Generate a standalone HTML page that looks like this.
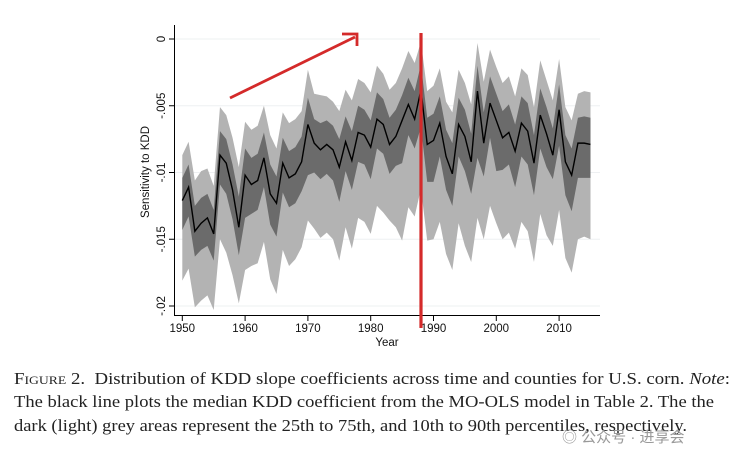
<!DOCTYPE html>
<html><head><meta charset="utf-8"><style>
html,body{margin:0;padding:0;background:#fff;width:746px;height:467px;overflow:hidden}
.cap{position:absolute;left:14px;font-family:"Liberation Serif",serif;font-size:16.5px;color:#222;white-space:nowrap;transform-origin:0 0}
</style></head><body>
<svg id="chart" width="746" height="467" style="position:absolute;left:0;top:0" font-family="Liberation Sans, sans-serif"></svg>
<div class="cap" id="c1" data-tw="716" style="top:369px"><span style="font-variant:small-caps">Figure</span> 2.&nbsp; Distribution of KDD slope coefficients across time and counties for U.S. corn. <i>Note</i>:</div>
<div class="cap" id="c2" data-tw="700" style="top:392px">The black line plots the median KDD coefficient from the MO-OLS model in Table 2. The the</div>
<div class="cap" id="c3" data-tw="673" style="top:416px">dark (light) grey areas represent the 25th to 75th, and 10th to 90th percentiles, respectively.</div>
<div style="position:absolute;left:562px;top:426px;font-family:'Liberation Sans','Noto Sans CJK SC',sans-serif;font-size:15px;color:#999">◎ 公众号 · 进享会</div>
<script>
const years=[];for(let y=1950;y<=2015;y++)years.push(y);
const median=[-0.0121,-0.0111,-0.0144,-0.0138,-0.0134,-0.0146,-0.0087,-0.0093,-0.0113,-0.0141,-0.0102,-0.0109,-0.0106,-0.0089,-0.0116,-0.0123,-0.0093,-0.0104,-0.0101,-0.0092,-0.0064,-0.0078,-0.0083,-0.0079,-0.0083,-0.0096,-0.0077,-0.0091,-0.0070,-0.0072,-0.0081,-0.0060,-0.0064,-0.0079,-0.0073,-0.0061,-0.0049,-0.0060,-0.0038,-0.0079,-0.0076,-0.0063,-0.0088,-0.0101,-0.0064,-0.0073,-0.0092,-0.0039,-0.0078,-0.0048,-0.0061,-0.0074,-0.0070,-0.0084,-0.0063,-0.0069,-0.0093,-0.0057,-0.0071,-0.0087,-0.0053,-0.0092,-0.0102,-0.0078,-0.0078,-0.0079];
const p90=[-0.0087,-0.0077,-0.0106,-0.0099,-0.0097,-0.0110,-0.0051,-0.0057,-0.0074,-0.0096,-0.0062,-0.0068,-0.0065,-0.0050,-0.0072,-0.0082,-0.0055,-0.0063,-0.0060,-0.0054,-0.0023,-0.0041,-0.0042,-0.0043,-0.0047,-0.0054,-0.0038,-0.0046,-0.0030,-0.0033,-0.0040,-0.0020,-0.0026,-0.0038,-0.0033,-0.0022,-0.0009,-0.0018,-0.0002,-0.0039,-0.0035,-0.0022,-0.0047,-0.0055,-0.0023,-0.0033,-0.0049,-0.0003,-0.0032,-0.0008,-0.0021,-0.0033,-0.0028,-0.0043,-0.0022,-0.0027,-0.0051,-0.0016,-0.0031,-0.0046,-0.0015,-0.0051,-0.0061,-0.0041,-0.0039,-0.0040];
const p75=[-0.0104,-0.0094,-0.0125,-0.0119,-0.0116,-0.0128,-0.0069,-0.0075,-0.0094,-0.0118,-0.0082,-0.0089,-0.0086,-0.0070,-0.0094,-0.0103,-0.0074,-0.0084,-0.0081,-0.0073,-0.0044,-0.0060,-0.0063,-0.0061,-0.0065,-0.0075,-0.0058,-0.0069,-0.0050,-0.0053,-0.0061,-0.0040,-0.0045,-0.0059,-0.0053,-0.0042,-0.0029,-0.0039,-0.0019,-0.0059,-0.0056,-0.0043,-0.0068,-0.0078,-0.0044,-0.0053,-0.0071,-0.0020,-0.0055,-0.0028,-0.0041,-0.0054,-0.0049,-0.0064,-0.0043,-0.0048,-0.0072,-0.0037,-0.0051,-0.0067,-0.0034,-0.0072,-0.0082,-0.0059,-0.0058,-0.0059];
const p25=[-0.0143,-0.0133,-0.0163,-0.0158,-0.0155,-0.0166,-0.0109,-0.0116,-0.0135,-0.0162,-0.0134,-0.0131,-0.0128,-0.0111,-0.0139,-0.0148,-0.0115,-0.0126,-0.0123,-0.0114,-0.0102,-0.0100,-0.0105,-0.0101,-0.0106,-0.0122,-0.0099,-0.0113,-0.0092,-0.0094,-0.0105,-0.0082,-0.0086,-0.0101,-0.0095,-0.0093,-0.0072,-0.0082,-0.0066,-0.0107,-0.0107,-0.0088,-0.0113,-0.0125,-0.0088,-0.0099,-0.0116,-0.0089,-0.0103,-0.0074,-0.0099,-0.0098,-0.0094,-0.0111,-0.0088,-0.0094,-0.0117,-0.0082,-0.0096,-0.0105,-0.0080,-0.0117,-0.0129,-0.0104,-0.0104,-0.0104];
const p10=[-0.0181,-0.0172,-0.0201,-0.0196,-0.0192,-0.0203,-0.0150,-0.0160,-0.0177,-0.0198,-0.0173,-0.0170,-0.0168,-0.0152,-0.0180,-0.0191,-0.0158,-0.0170,-0.0165,-0.0156,-0.0136,-0.0142,-0.0149,-0.0145,-0.0150,-0.0166,-0.0141,-0.0157,-0.0134,-0.0137,-0.0146,-0.0125,-0.0130,-0.0136,-0.0141,-0.0151,-0.0126,-0.0133,-0.0112,-0.0151,-0.0150,-0.0137,-0.0161,-0.0173,-0.0138,-0.0155,-0.0167,-0.0134,-0.0150,-0.0125,-0.0138,-0.0150,-0.0145,-0.0157,-0.0137,-0.0144,-0.0167,-0.0131,-0.0147,-0.0155,-0.0128,-0.0164,-0.0175,-0.0150,-0.0148,-0.0150];
const yTicks=[0,-0.005,-0.01,-0.015,-0.02];
const yTickLabels=["0","-.005","-.01","-.015","-.02"];
const xTicks=[1950,1960,1970,1980,1990,2000,2010];

const NS="http://www.w3.org/2000/svg";
const svg=document.getElementById('chart');
const X=yr=>182.3+(yr-1950)*6.28;
const Y=v=>39-v*13350;
function mk(tag,attrs,parent){const e=document.createElementNS(NS,tag);for(const k in attrs)e.setAttribute(k,attrs[k]);(parent||svg).appendChild(e);return e;}
yTicks.forEach((t,i)=>{
  const g=mk('line',{x1:175,x2:600,y1:Y(t),y2:Y(t),stroke:'#eef0f2','stroke-width':1});
  
  
});
function band(hi,lo,fill,name){
  let d='M'+years.map((y,i)=>X(y)+','+Y(hi[i])).join('L');
  d+='L'+years.slice().reverse().map((y,j)=>{const i=years.length-1-j;return X(y)+','+Y(lo[i]);}).join('L')+'Z';
  const p=mk('path',{d:d,fill:fill});
  
  
}
band(p90,p10,'#b3b3b3','band-10-90');
band(p75,p25,'#6b6b6b','band-25-75');
const ml=mk('polyline',{points:years.map((y,i)=>X(y)+','+Y(median[i])).join(' '),fill:'none',stroke:'#000','stroke-width':1.4});


const ya=mk('line',{x1:174.5,x2:174.5,y1:25,y2:316,stroke:'#000','stroke-width':1});


const xa=mk('line',{x1:174,x2:600,y1:315.5,y2:315.5,stroke:'#000','stroke-width':1});


yTicks.forEach((t,i)=>{
  mk('line',{x1:169,x2:174.5,y1:Y(t),y2:Y(t),stroke:'#000'});
  const tx=mk('text',{x:0,y:0,transform:`translate(165,${Y(t)}) rotate(-90)`,'text-anchor':'middle','font-size':11.5,fill:'#111'});
  tx.textContent=yTickLabels[i];
  
  
});
xTicks.forEach(t=>{
  mk('line',{x1:X(t),x2:X(t),y1:315.5,y2:321,stroke:'#000'});
  const tx=mk('text',{x:X(t),y:332,'text-anchor':'middle','font-size':11.5,fill:'#111'});
  tx.textContent=t;
  
  
});
const yt=mk('text',{x:0,y:0,transform:'translate(149,172) rotate(-90)','text-anchor':'middle','font-size':11.5,fill:'#111'});
yt.textContent='Sensitivity to KDD';


const xt=mk('text',{x:387,y:346,'text-anchor':'middle','font-size':11.5,fill:'#111'});
xt.textContent='Year';


const rl=mk('line',{x1:421,x2:421,y1:33,y2:328,stroke:'#d42a2a','stroke-width':3.2});


const ar=mk('path',{d:'M230,98 L355,37 M342,34 L357,34 L357,46',fill:'none',stroke:'#d42a2a','stroke-width':2.8});


['c1','c2','c3'].forEach(id=>{const el=document.getElementById(id);const w=el.getBoundingClientRect().width;const tw=+el.dataset.tw;el.style.transform='scaleX('+(tw/w)+')';});
</script>
</body></html>
